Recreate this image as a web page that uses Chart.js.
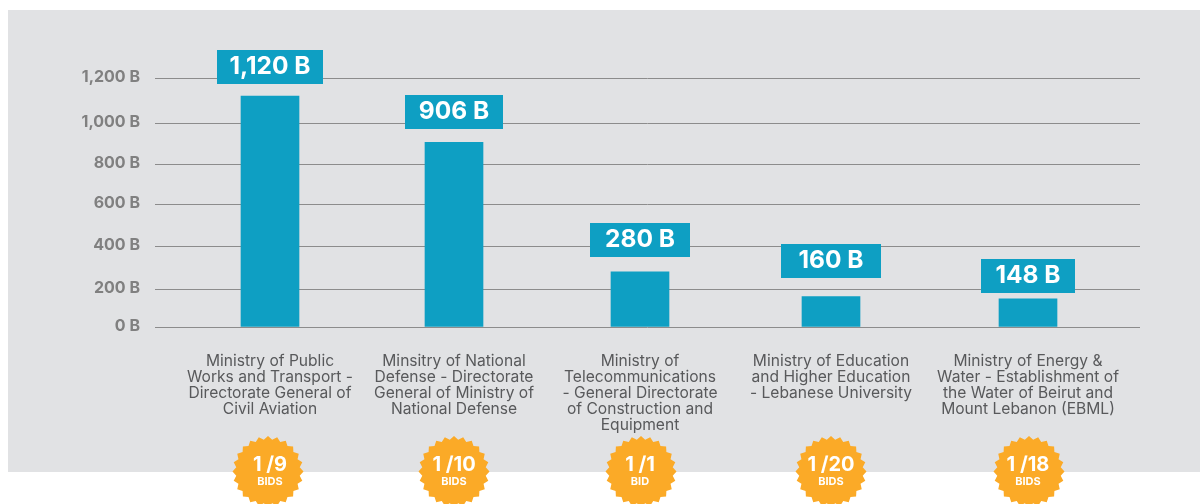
<!DOCTYPE html>
<html><head><meta charset="utf-8">
<style>html,body{margin:0;padding:0;background:#fff}canvas{display:block}</style>
<script src="https://cdn.jsdelivr.net/npm/chart.js@4"></script></head>
<body><canvas id="c" width="1200" height="504"></canvas>
<script>
// ---- data ----
const categories = [
  ["Ministry of Public","Works and Transport -","Directorate General of","Civil Aviation"],
  ["Minsitry of National","Defense - Directorate","General of Ministry of","National Defense"],
  ["Ministry of","Telecommunications","- General Directorate","of Construction and","Equipment"],
  ["Ministry of Education","and Higher Education","- Lebanese University"],
  ["Ministry of Energy &","Water - Establishment of","the Water of Beirut and","Mount Lebanon (EBML)"]
];
const values = [1120, 906, 280, 160, 148];
const valueLabels = ["1,120 B","906 B","280 B","160 B","148 B"];
const bidsWon = [1,1,1,1,1];
const bidsTotal = [9,10,1,20,18];
const bidWords = ["BIDS","BIDS","BID","BIDS","BIDS"];
const yTicks = [0,200,400,600,800,1000,1200];

// ---- layout and style (hand-spaced in the reference) ----
const tickRows = [327,289,246,204,164,123,78];
const columnCentres = [270,454,640,831,1028];
const badgeCentres = [268,454,641,831,1029];
const labelGaps = [12.4,13.3,14.8,18.6,6];
const labelWidths = [106,98,100,100,94];
const FONT = "Inter";
const TEAL = "#0e9fc3", ORANGE = "#fbaa27", PANEL = "#e1e2e4";

class SpacedLinear extends Chart.LinearScale {
  getPixelForValue(v){
    for(let i=0;i<yTicks.length-1;i++){
      if(v<=yTicks[i+1]||i===yTicks.length-2){
        const f=(v-yTicks[i])/(yTicks[i+1]-yTicks[i]);
        return tickRows[i]+f*(tickRows[i+1]-tickRows[i]);
      }
    }
  }
}
SpacedLinear.id="spacedLinear"; SpacedLinear.defaults=Chart.LinearScale.defaults;
class SpacedCategory extends Chart.CategoryScale {
  getPixelForValue(v){
    if(typeof v!=="number") v=this.parse(v);
    return columnCentres[v];
  }
}
SpacedCategory.id="spacedCategory"; SpacedCategory.defaults=Chart.CategoryScale.defaults;
Chart.register(SpacedLinear,SpacedCategory);

const panel={id:"panel",beforeDraw(ch){const c=ch.ctx;c.save();c.fillStyle=PANEL;c.fillRect(8,10,1192,462);c.restore();}};
const extras={id:"extras",afterDraw(ch){
  const c=ch.ctx,bars=ch.getDatasetMeta(0).data;c.save();
  c.textAlign="center";c.textBaseline="middle";
  bars.forEach((b,i)=>{
    c.font=`700 24.5px ${FONT}`;
    const w=labelWidths[i],h=34,top=Math.round(b.y-labelGaps[i]-h);
    c.fillStyle=TEAL;c.fillRect(b.x-w/2,top,w,h);
    c.fillStyle="#fff";c.fillText(valueLabels[i],b.x,top+h/2);
    const x=badgeCentres[i],y=471.5,n=24;
    c.beginPath();
    for(let k=0;k<n*2;k++){
      const r=k%2?32:35.5,a=k*Math.PI/n-Math.PI/2;
      c.lineTo(x+r*Math.cos(a),y+r*Math.sin(a));
    }
    c.closePath();c.fillStyle=ORANGE;c.fill();
    c.fillStyle="#fff";
    c.font=`700 20px ${FONT}`;c.fillText(bidsWon[i]+" /"+bidsTotal[i],columnCentres[i],465);
    c.font=`700 11px ${FONT}`;c.fillText(bidWords[i],columnCentres[i],482);
  });
  c.restore();
}};

new Chart(document.getElementById("c"),{
  type:"bar",
  data:{labels:categories,datasets:[{data:values,backgroundColor:TEAL,barThickness:58,borderWidth:0}]},
  plugins:[panel,extras],
  options:{
    responsive:false,animation:false,
    layout:{padding:{top:78,right:60,left:0,bottom:0}},
    plugins:{legend:{display:false},tooltip:{enabled:false},title:{display:false}},
    scales:{
      x:{type:"spacedCategory",offset:true,
        grid:{display:false,drawTicks:false},border:{display:false},
        ticks:{autoSkip:false,maxRotation:0,minRotation:0,padding:26,color:"#58595b",
          font:{family:FONT,size:15.6,lineHeight:16/15.6}},
        afterFit(s){s.height=177;s.paddingLeft=0;s.paddingRight=0;}},
      y:{type:"spacedLinear",min:0,max:1200,
        afterBuildTicks(s){s.ticks=yTicks.map(v=>({value:v}));},
        grid:{color:"#8c8c8c",lineWidth:1,drawTicks:false},border:{display:false},
        ticks:{padding:15,color:"#808080",labelOffset:-0.5,font:{family:FONT,size:16,weight:"700"},
          callback:v=>(v>=1000?Math.floor(v/1000)+","+String(v%1000).padStart(3,"0"):v)+" B"},
        afterFit(s){s.width=155;s.paddingTop=0;s.paddingBottom=0;}}
    }
  }
});
</script></body></html>
